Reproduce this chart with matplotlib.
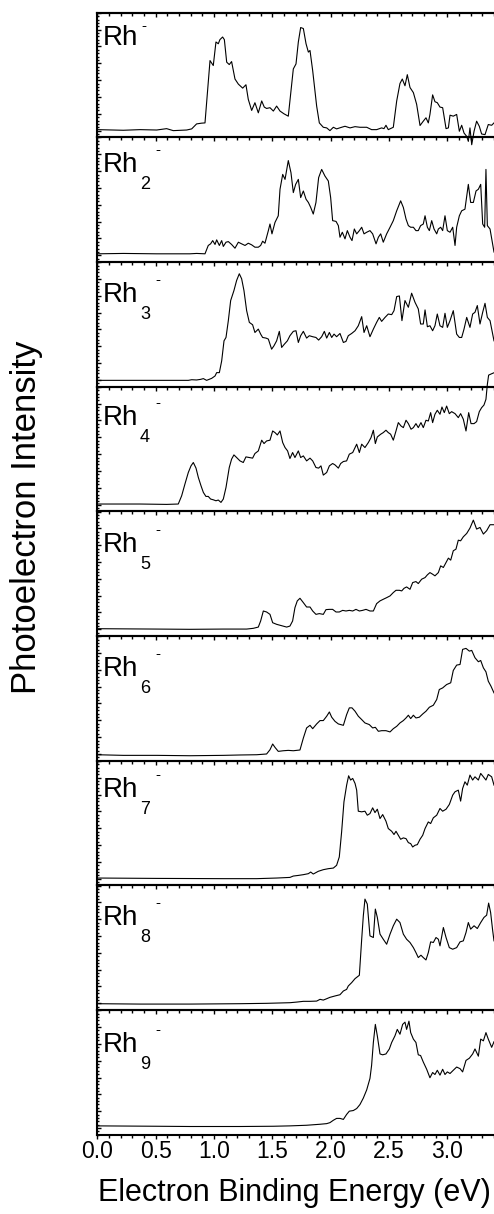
import matplotlib
matplotlib.use("Agg")
import matplotlib.pyplot as plt
from matplotlib.ticker import MultipleLocator, AutoMinorLocator, NullFormatter

plt.rcParams["font.family"] = ["Liberation Sans", "DejaVu Sans"]

# photoelectron spectra, binding energy (eV) vs intensity (% of panel height)
rh1_energy = [0.000, 0.223, 0.366, 0.509, 0.594, 0.651, 0.766, 0.809, 0.851, 0.894, 0.923, 0.966, 0.994, 1.017, 1.037, 1.051, 1.074, 1.089, 1.109, 1.131, 1.151, 1.180, 1.209, 1.246, 1.274, 1.294, 1.323, 1.351, 1.380, 1.409, 1.431, 1.451, 1.480, 1.509, 1.537, 1.566, 1.600, 1.637, 1.680, 1.703, 1.723, 1.743, 1.766, 1.789, 1.809, 1.823, 1.846, 1.880, 1.903, 1.937, 1.966, 1.994, 2.023, 2.051, 2.094, 2.123, 2.166, 2.209, 2.251, 2.309, 2.351, 2.394, 2.437, 2.457, 2.474, 2.494, 2.537, 2.566, 2.594, 2.614, 2.637, 2.657, 2.680, 2.709, 2.737, 2.766, 2.794, 2.817, 2.837, 2.851, 2.874, 2.894, 2.914, 2.937, 2.960, 2.989, 3.009, 3.023, 3.051, 3.080, 3.103, 3.123, 3.143, 3.166, 3.180, 3.194, 3.209, 3.229, 3.251, 3.274, 3.294, 3.323, 3.351, 3.380, 3.400]
rh1_signal = [6.2, 5.7, 6.2, 5.9, 7.0, 5.4, 5.9, 6.8, 10.8, 11.4, 11.6, 61.6, 57.6, 76.5, 75.1, 78.4, 80.5, 78.4, 60.3, 58.4, 60.8, 46.8, 42.7, 39.5, 42.2, 30.5, 21.6, 27.8, 19.7, 29.2, 24.3, 23.2, 23.8, 21.1, 25.1, 21.1, 18.9, 17.0, 54.9, 58.9, 76.5, 88.1, 87.3, 75.1, 68.4, 69.7, 53.5, 25.1, 11.6, 8.1, 7.6, 5.4, 8.1, 6.8, 8.1, 8.9, 7.6, 8.6, 8.1, 8.1, 6.2, 6.2, 7.6, 7.0, 9.7, 6.2, 8.1, 29.2, 43.2, 46.8, 41.4, 50.3, 40.0, 35.9, 26.5, 9.5, 13.0, 15.7, 11.6, 18.4, 34.1, 28.6, 27.8, 24.3, 23.8, 7.0, 7.6, 17.8, 17.0, 18.4, 4.9, 9.7, 3.5, 0.8, -3.2, 7.6, -5.9, 4.9, 13.0, 8.9, 2.7, 2.2, 10.3, 9.7, 11.6]

rh2_energy = [0.000, 0.223, 0.509, 0.794, 0.851, 0.923, 0.951, 0.971, 0.989, 1.009, 1.023, 1.046, 1.066, 1.080, 1.103, 1.123, 1.151, 1.180, 1.209, 1.237, 1.266, 1.294, 1.323, 1.351, 1.380, 1.400, 1.417, 1.437, 1.466, 1.480, 1.497, 1.523, 1.551, 1.566, 1.589, 1.609, 1.637, 1.660, 1.680, 1.700, 1.723, 1.743, 1.766, 1.789, 1.809, 1.829, 1.851, 1.874, 1.897, 1.923, 1.951, 1.980, 2.000, 2.017, 2.046, 2.066, 2.080, 2.100, 2.123, 2.143, 2.166, 2.183, 2.203, 2.223, 2.246, 2.266, 2.286, 2.309, 2.337, 2.360, 2.389, 2.409, 2.429, 2.451, 2.480, 2.509, 2.537, 2.566, 2.600, 2.623, 2.646, 2.666, 2.686, 2.709, 2.731, 2.751, 2.771, 2.794, 2.809, 2.829, 2.846, 2.866, 2.886, 2.909, 2.923, 2.943, 2.960, 2.980, 3.000, 3.023, 3.046, 3.066, 3.080, 3.103, 3.123, 3.151, 3.180, 3.200, 3.223, 3.246, 3.266, 3.286, 3.303, 3.320, 3.331, 3.343, 3.366, 3.400]
rh2_signal = [6.6, 6.9, 6.6, 6.6, 6.9, 6.6, 13.3, 14.6, 17.2, 14.1, 17.8, 13.3, 17.2, 12.5, 15.9, 16.4, 14.1, 11.1, 15.9, 14.6, 13.3, 15.1, 13.8, 11.9, 11.9, 13.3, 16.7, 15.1, 25.2, 30.5, 22.6, 31.8, 37.1, 58.4, 70.3, 66.3, 81.4, 71.6, 55.7, 62.3, 66.3, 51.7, 57.0, 50.4, 47.8, 43.8, 38.5, 47.8, 67.7, 74.3, 69.0, 65.0, 51.7, 33.2, 32.6, 29.2, 19.9, 23.9, 18.6, 25.2, 19.9, 17.2, 26.5, 22.6, 25.2, 27.9, 22.6, 23.9, 25.2, 22.6, 14.6, 19.9, 22.6, 15.9, 22.6, 27.9, 33.2, 41.1, 49.1, 43.8, 34.5, 29.2, 27.9, 27.9, 25.2, 25.2, 29.2, 30.5, 37.1, 27.9, 25.2, 33.2, 26.5, 22.6, 26.5, 27.9, 25.2, 37.1, 25.2, 23.9, 27.9, 13.3, 27.9, 37.1, 41.1, 42.4, 62.3, 47.8, 47.8, 57.0, 58.4, 62.3, 30.5, 27.9, 74.3, 29.2, 26.5, 8.0]

rh3_energy = [0.000, 0.509, 0.780, 0.809, 0.851, 0.886, 0.909, 0.937, 0.980, 1.009, 1.023, 1.046, 1.066, 1.086, 1.103, 1.123, 1.143, 1.171, 1.194, 1.217, 1.237, 1.257, 1.280, 1.303, 1.331, 1.351, 1.380, 1.400, 1.417, 1.446, 1.466, 1.494, 1.514, 1.537, 1.560, 1.580, 1.603, 1.629, 1.651, 1.680, 1.703, 1.723, 1.743, 1.766, 1.794, 1.817, 1.846, 1.874, 1.897, 1.923, 1.946, 1.966, 1.989, 2.009, 2.029, 2.051, 2.080, 2.109, 2.131, 2.151, 2.180, 2.209, 2.237, 2.266, 2.286, 2.309, 2.337, 2.366, 2.394, 2.417, 2.437, 2.466, 2.494, 2.523, 2.543, 2.566, 2.589, 2.611, 2.637, 2.666, 2.694, 2.723, 2.751, 2.771, 2.794, 2.809, 2.829, 2.851, 2.874, 2.894, 2.914, 2.937, 2.960, 2.980, 3.000, 3.023, 3.051, 3.080, 3.103, 3.123, 3.143, 3.166, 3.194, 3.217, 3.237, 3.257, 3.280, 3.303, 3.323, 3.343, 3.366, 3.400]
rh3_signal = [5.1, 5.1, 5.1, 5.6, 5.4, 5.9, 6.5, 5.1, 6.7, 8.6, 11.3, 11.3, 20.7, 36.8, 39.5, 53.0, 69.1, 77.1, 85.2, 90.6, 86.6, 77.1, 61.0, 51.6, 49.7, 43.5, 46.2, 42.2, 39.5, 39.0, 38.2, 30.1, 32.8, 36.8, 44.4, 31.5, 34.1, 36.8, 40.9, 44.4, 44.9, 35.5, 40.9, 44.4, 39.0, 40.9, 40.1, 39.5, 37.4, 40.1, 44.4, 39.0, 43.5, 39.5, 42.2, 40.1, 42.7, 35.5, 36.3, 40.9, 42.7, 44.9, 48.9, 56.2, 43.5, 48.9, 40.1, 46.2, 51.6, 55.6, 52.4, 55.6, 58.3, 57.8, 61.0, 72.3, 72.8, 53.0, 69.1, 63.7, 75.0, 67.7, 62.4, 50.3, 50.3, 61.6, 48.1, 48.9, 44.9, 48.9, 58.3, 48.9, 47.6, 58.9, 47.6, 53.0, 61.0, 42.2, 39.5, 39.5, 46.2, 55.6, 47.6, 58.3, 59.7, 65.1, 50.3, 59.7, 66.9, 55.6, 53.0, 36.8]

rh4_energy = [0.000, 0.366, 0.594, 0.694, 0.723, 0.751, 0.780, 0.803, 0.823, 0.846, 0.866, 0.889, 0.909, 0.931, 0.951, 0.971, 0.994, 1.017, 1.037, 1.060, 1.080, 1.103, 1.131, 1.151, 1.171, 1.194, 1.223, 1.251, 1.274, 1.303, 1.331, 1.351, 1.380, 1.409, 1.429, 1.451, 1.480, 1.503, 1.523, 1.543, 1.566, 1.589, 1.609, 1.631, 1.651, 1.674, 1.694, 1.723, 1.743, 1.766, 1.794, 1.823, 1.846, 1.874, 1.897, 1.917, 1.937, 1.966, 1.989, 2.017, 2.037, 2.066, 2.086, 2.109, 2.137, 2.160, 2.189, 2.223, 2.246, 2.266, 2.294, 2.323, 2.346, 2.366, 2.383, 2.400, 2.429, 2.451, 2.474, 2.494, 2.514, 2.537, 2.560, 2.580, 2.603, 2.623, 2.646, 2.666, 2.689, 2.709, 2.731, 2.751, 2.774, 2.794, 2.817, 2.837, 2.857, 2.874, 2.894, 2.914, 2.937, 2.954, 2.974, 2.994, 3.017, 3.037, 3.066, 3.094, 3.114, 3.137, 3.160, 3.183, 3.203, 3.229, 3.251, 3.274, 3.294, 3.314, 3.331, 3.343, 3.354, 3.380, 3.400]
rh4_signal = [5.9, 5.9, 5.6, 5.9, 12.5, 21.9, 31.2, 36.5, 39.2, 34.7, 27.2, 20.5, 15.2, 12.0, 12.0, 9.9, 9.3, 8.5, 9.1, 7.2, 9.9, 19.2, 35.2, 41.9, 45.3, 43.2, 40.5, 39.2, 43.7, 43.2, 42.7, 46.4, 48.5, 57.1, 54.4, 56.5, 57.1, 64.5, 63.2, 61.3, 64.5, 55.2, 51.2, 48.5, 42.4, 47.2, 43.2, 48.5, 43.2, 44.5, 40.5, 42.7, 40.5, 35.2, 34.7, 36.5, 29.1, 31.2, 36.5, 38.4, 37.3, 34.7, 38.4, 40.0, 40.5, 45.9, 47.2, 53.9, 47.2, 53.9, 51.2, 55.2, 59.2, 65.1, 54.4, 59.7, 61.9, 63.2, 65.1, 63.2, 61.9, 57.1, 64.5, 71.2, 68.5, 67.2, 73.1, 70.4, 65.9, 67.2, 70.4, 67.2, 71.2, 67.2, 73.1, 72.5, 79.2, 71.2, 77.9, 81.1, 77.9, 83.7, 79.2, 84.5, 78.4, 80.0, 78.4, 75.2, 78.4, 73.9, 64.5, 79.2, 70.4, 70.4, 72.0, 80.0, 83.2, 85.3, 89.9, 101.9, 109.3, 110.4, 111.2]

rh5_energy = [0.000, 0.509, 0.794, 1.080, 1.280, 1.337, 1.380, 1.400, 1.423, 1.451, 1.480, 1.503, 1.537, 1.580, 1.623, 1.651, 1.674, 1.694, 1.714, 1.737, 1.766, 1.794, 1.823, 1.846, 1.874, 1.903, 1.937, 1.960, 1.989, 2.017, 2.046, 2.074, 2.103, 2.131, 2.160, 2.189, 2.217, 2.246, 2.274, 2.303, 2.337, 2.366, 2.394, 2.423, 2.451, 2.480, 2.509, 2.537, 2.560, 2.589, 2.609, 2.629, 2.651, 2.680, 2.703, 2.731, 2.751, 2.780, 2.809, 2.829, 2.851, 2.874, 2.894, 2.923, 2.943, 2.966, 2.989, 3.009, 3.029, 3.051, 3.074, 3.094, 3.114, 3.137, 3.166, 3.194, 3.223, 3.251, 3.280, 3.309, 3.337, 3.366, 3.400]
rh5_signal = [5.9, 5.6, 5.4, 5.6, 5.6, 6.2, 7.2, 12.1, 20.1, 19.3, 17.4, 10.7, 9.4, 8.3, 7.2, 8.0, 12.1, 22.8, 28.2, 30.3, 26.8, 23.3, 23.3, 20.1, 17.4, 18.0, 17.4, 21.2, 21.4, 21.4, 19.3, 19.3, 20.6, 20.1, 20.6, 20.1, 21.4, 20.1, 20.6, 21.4, 20.1, 20.1, 26.0, 28.2, 29.5, 30.8, 32.2, 34.9, 36.7, 36.7, 36.2, 38.3, 39.4, 37.5, 42.9, 43.7, 42.1, 45.6, 46.9, 49.1, 50.9, 49.6, 48.3, 50.9, 56.3, 55.0, 59.0, 62.5, 60.9, 68.4, 69.7, 76.9, 76.4, 79.6, 82.3, 86.6, 93.0, 85.8, 87.1, 81.8, 84.5, 89.3, 89.3]

rh6_energy = [0.000, 0.223, 0.509, 0.794, 1.080, 1.223, 1.366, 1.451, 1.480, 1.503, 1.523, 1.551, 1.594, 1.637, 1.680, 1.737, 1.766, 1.794, 1.823, 1.846, 1.880, 1.909, 1.937, 1.966, 1.989, 2.009, 2.037, 2.066, 2.109, 2.137, 2.160, 2.183, 2.209, 2.237, 2.266, 2.294, 2.331, 2.360, 2.383, 2.409, 2.437, 2.474, 2.509, 2.537, 2.566, 2.594, 2.623, 2.646, 2.666, 2.686, 2.709, 2.731, 2.760, 2.789, 2.817, 2.846, 2.880, 2.909, 2.931, 2.960, 2.994, 3.029, 3.051, 3.080, 3.109, 3.131, 3.160, 3.189, 3.209, 3.237, 3.266, 3.286, 3.309, 3.331, 3.351, 3.374, 3.400]
rh6_signal = [4.8, 4.3, 4.3, 4.0, 4.3, 4.6, 4.8, 5.4, 8.8, 13.4, 10.7, 7.5, 8.0, 8.3, 8.0, 8.6, 18.2, 26.3, 28.4, 25.7, 29.5, 32.2, 32.2, 35.7, 39.1, 34.9, 31.6, 29.5, 28.4, 37.0, 42.4, 42.4, 39.7, 35.7, 33.0, 30.3, 29.0, 26.3, 26.8, 23.6, 24.1, 24.1, 23.1, 25.7, 27.6, 30.3, 32.2, 34.3, 36.5, 33.8, 36.5, 34.3, 34.9, 37.5, 39.7, 42.9, 44.5, 49.1, 57.1, 58.4, 61.1, 62.5, 72.4, 76.7, 77.2, 89.3, 90.1, 87.9, 88.5, 82.6, 79.4, 80.4, 74.5, 71.3, 63.8, 59.8, 54.4]

rh7_energy = [0.000, 0.509, 1.080, 1.366, 1.537, 1.651, 1.680, 1.723, 1.766, 1.809, 1.829, 1.851, 1.894, 1.937, 1.980, 2.023, 2.051, 2.074, 2.094, 2.114, 2.137, 2.154, 2.171, 2.189, 2.209, 2.223, 2.237, 2.266, 2.294, 2.314, 2.337, 2.360, 2.380, 2.400, 2.423, 2.446, 2.474, 2.494, 2.523, 2.543, 2.560, 2.580, 2.600, 2.623, 2.646, 2.666, 2.686, 2.703, 2.723, 2.743, 2.766, 2.789, 2.809, 2.837, 2.857, 2.880, 2.909, 2.937, 2.960, 2.989, 3.017, 3.046, 3.066, 3.094, 3.114, 3.131, 3.151, 3.171, 3.194, 3.217, 3.237, 3.266, 3.286, 3.309, 3.331, 3.351, 3.380, 3.400]
rh7_signal = [5.9, 5.6, 5.4, 5.4, 5.9, 6.4, 7.5, 8.0, 8.6, 9.4, 10.7, 9.1, 11.3, 12.6, 13.4, 13.9, 16.1, 22.8, 42.9, 67.0, 80.4, 87.9, 84.5, 85.8, 81.8, 76.4, 59.5, 59.0, 59.5, 56.3, 57.6, 62.2, 58.4, 61.1, 53.6, 56.8, 51.5, 45.6, 43.4, 40.8, 43.4, 40.2, 37.0, 38.1, 37.5, 34.3, 33.5, 30.8, 32.2, 32.7, 37.0, 40.2, 45.6, 50.9, 49.6, 54.2, 56.3, 61.7, 59.5, 61.1, 64.9, 72.4, 75.1, 76.4, 67.6, 77.7, 83.1, 80.4, 88.5, 84.5, 87.1, 84.5, 89.8, 87.1, 84.5, 89.0, 87.1, 80.4]

rh8_energy = [0.000, 0.366, 0.794, 1.223, 1.451, 1.651, 1.709, 1.766, 1.823, 1.880, 1.909, 1.937, 1.966, 1.994, 2.037, 2.080, 2.109, 2.137, 2.151, 2.180, 2.209, 2.246, 2.266, 2.280, 2.294, 2.314, 2.337, 2.366, 2.383, 2.400, 2.423, 2.451, 2.480, 2.509, 2.537, 2.566, 2.594, 2.623, 2.651, 2.680, 2.709, 2.731, 2.751, 2.774, 2.794, 2.817, 2.837, 2.857, 2.880, 2.903, 2.923, 2.937, 2.966, 2.989, 3.017, 3.046, 3.080, 3.109, 3.137, 3.160, 3.180, 3.200, 3.229, 3.257, 3.286, 3.314, 3.337, 3.354, 3.371, 3.389, 3.400]
rh8_signal = [5.1, 4.8, 4.8, 5.1, 5.4, 5.9, 6.4, 7.0, 7.0, 7.2, 8.6, 8.0, 9.1, 10.2, 11.3, 12.3, 15.3, 16.6, 19.3, 22.0, 25.2, 27.9, 56.8, 75.6, 89.0, 85.0, 59.5, 58.2, 81.0, 74.3, 60.9, 56.8, 52.8, 60.9, 67.6, 72.9, 70.2, 60.9, 56.8, 54.2, 50.1, 46.1, 42.1, 44.0, 42.1, 40.2, 46.1, 54.7, 54.2, 58.2, 56.8, 51.5, 66.2, 58.2, 50.1, 48.8, 50.1, 54.7, 55.5, 62.2, 70.2, 64.9, 67.6, 65.4, 70.2, 74.3, 76.1, 85.8, 78.3, 63.5, 55.5]

rh9_energy = [0.000, 0.509, 0.794, 1.223, 1.509, 1.651, 1.794, 1.909, 1.966, 1.994, 2.023, 2.051, 2.080, 2.109, 2.137, 2.160, 2.194, 2.223, 2.251, 2.280, 2.309, 2.337, 2.351, 2.366, 2.383, 2.400, 2.423, 2.446, 2.474, 2.503, 2.523, 2.551, 2.571, 2.594, 2.617, 2.637, 2.651, 2.671, 2.686, 2.709, 2.731, 2.751, 2.771, 2.794, 2.823, 2.851, 2.874, 2.894, 2.914, 2.937, 2.960, 2.980, 3.000, 3.023, 3.051, 3.080, 3.109, 3.131, 3.160, 3.189, 3.217, 3.237, 3.266, 3.286, 3.309, 3.331, 3.351, 3.380, 3.400]
rh9_signal = [7.1, 6.8, 6.6, 6.6, 6.8, 7.1, 7.6, 8.4, 8.9, 9.7, 11.6, 13.1, 13.1, 12.3, 16.3, 18.9, 19.4, 21.0, 24.2, 29.4, 36.0, 45.2, 55.7, 74.0, 88.5, 79.3, 64.8, 64.1, 64.8, 68.8, 74.0, 79.3, 84.5, 80.6, 88.5, 90.3, 84.5, 91.1, 81.9, 76.7, 74.0, 64.1, 63.5, 58.3, 52.5, 45.7, 49.9, 48.3, 51.7, 47.8, 52.5, 48.3, 50.4, 49.1, 51.7, 54.3, 53.0, 50.4, 59.6, 61.4, 64.8, 68.8, 63.0, 76.7, 75.3, 81.9, 76.7, 70.1, 74.6]

cluster_sizes = ["", "2", "3", "4", "5", "6", "7", "8", "9"]
energies = [rh1_energy, rh2_energy, rh3_energy, rh4_energy, rh5_energy,
            rh6_energy, rh7_energy, rh8_energy, rh9_energy]
signals = [rh1_signal, rh2_signal, rh3_signal, rh4_signal, rh5_signal,
           rh6_signal, rh7_signal, rh8_signal, rh9_signal]
x_ticks = [0.0, 0.5, 1.0, 1.5, 2.0, 2.5, 3.0]

W, H = 494, 1214
fig = plt.figure(figsize=(W / 100, H / 100), dpi=100)

left_px = 97.3
top_px = 12.7
panel_h = 124.67
label_drop = [32, 35, 40, 38, 41, 40, 36, 40, 42]


def fx(px):
    return px / W


def fy(py):
    return 1 - py / H


for i in range(9):
    t = top_px + i * panel_h
    ax = fig.add_axes([fx(left_px), fy(t + panel_h), 1 - fx(left_px), panel_h / H])
    ax.set_facecolor("none")
    ax.plot(energies[i], signals[i], color="black", lw=0.8, clip_on=False)
    ax.set_xlim(0, 3.4)
    ax.set_ylim(0, 100)

    ax.spines["right"].set_visible(False)
    for side in ["top", "bottom", "left"]:
        ax.spines[side].set_linewidth(1.5)

    ax.xaxis.set_major_locator(MultipleLocator(0.5))
    ax.xaxis.set_minor_locator(MultipleLocator(0.1))
    ax.yaxis.set_major_locator(MultipleLocator(13.5, offset=5.4))
    ax.yaxis.set_minor_locator(AutoMinorLocator(5))
    ax.yaxis.set_major_formatter(NullFormatter())
    ax.tick_params(axis="x", which="both", direction="out", top=False, bottom=True, width=1)
    ax.tick_params(axis="x", which="major", length=3)
    ax.tick_params(axis="x", which="minor", length=2)
    ax.tick_params(axis="y", which="both", direction="in", left=True, right=False, width=1)
    ax.tick_params(axis="y", which="major", length=3)
    ax.tick_params(axis="y", which="minor", length=1.5)

    if i == 0:
        sec = ax.secondary_xaxis("top")
        sec.xaxis.set_major_locator(MultipleLocator(0.5))
        sec.xaxis.set_minor_locator(MultipleLocator(0.1))
        sec.tick_params(axis="x", which="both", direction="in", width=1, labeltop=False)
        sec.tick_params(axis="x", which="major", length=3)
        sec.tick_params(axis="x", which="minor", length=2)
        sec.spines["top"].set_linewidth(1.5)

    if i == 8:
        ax.set_xticks(x_ticks)
        ax.set_xticklabels([f"{v:.1f}" for v in x_ticks], fontsize=16.5)
        ax.tick_params(axis="x", which="major", pad=1)
    else:
        ax.xaxis.set_major_formatter(NullFormatter())

    # panel label: Rh with subscript size and superscript charge
    base = t + label_drop[i]
    fig.text(fx(103), fy(base), "Rh", fontsize=20, va="baseline", ha="left")
    if cluster_sizes[i]:
        fig.text(fx(140), fy(base + 17), cluster_sizes[i], fontsize=13,
                 va="baseline", ha="left")
        fig.text(fx(155), fy(base - 22), "-", fontsize=11, va="center", ha="left")
    else:
        fig.text(fx(141), fy(base - 19), "-", fontsize=11, va="center", ha="left")

fig.text(fx(27), fy(517), "Photoelectron Intensity", rotation=90,
         fontsize=25, ha="center", va="center")
fig.text(fx(294), fy(1193), "Electron Binding Energy (eV)",
         fontsize=22, ha="center", va="center")

fig.savefig("out.png", dpi=100)
